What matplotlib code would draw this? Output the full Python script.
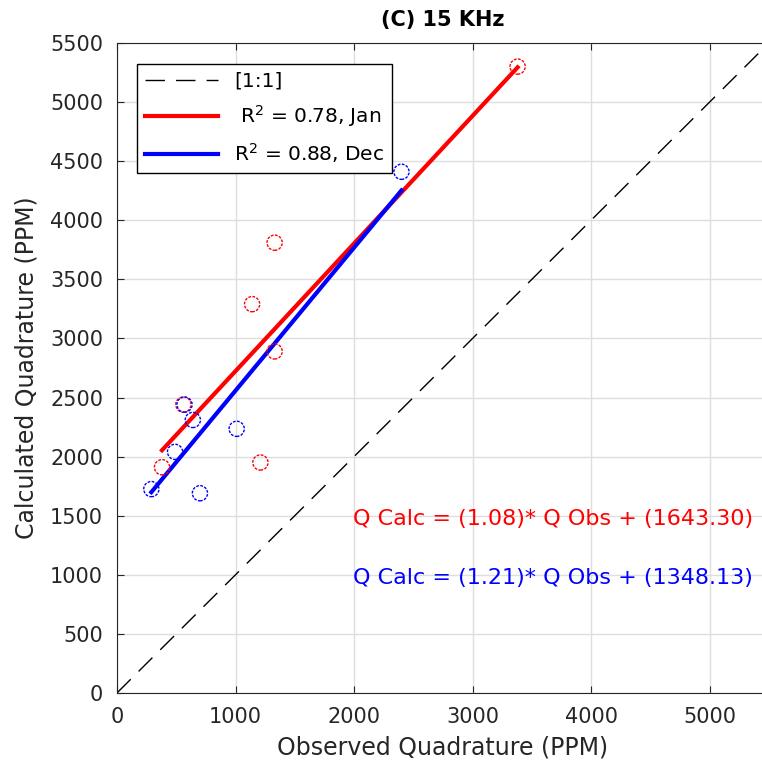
import matplotlib
matplotlib.use("Agg")
import matplotlib.pyplot as plt
import numpy as np

plt.rcParams["font.family"] = ["DejaVu Sans"]

# observed vs calculated quadrature (PPM)
jan_obs = [3380, 1330, 1140, 1330, 560, 380, 1210]
jan_calc = [5300, 3810, 3290, 2890, 2440, 1910, 1950]
dec_obs = [2400, 570, 640, 490, 290, 1010, 700]
dec_calc = [4410, 2440, 2310, 2040, 1725, 2235, 1690]

jan_fit = (1.08, 1643.30)
dec_fit = (1.21, 1348.13)
jan_r2, dec_r2 = 0.78, 0.88

lim = 5500
ticks = np.arange(0, 5501, 500)
xticks = np.arange(0, 5001, 1000)

fig = plt.figure(figsize=(7.62, 7.78), dpi=100)
ax = fig.add_axes([0.1535, 0.1093, 0.8556, 0.8355])

ax.plot([0, lim], [0, lim], "--", color="k", lw=1, dashes=(14, 8), label="[1:1]")

xr = np.array([min(jan_obs), max(jan_obs)])
ax.plot(xr, jan_fit[0] * xr + jan_fit[1], color="red", lw=3,
        label=r" R$^2$ = %.2f, Jan" % jan_r2)
xb = np.array([min(dec_obs), max(dec_obs)])
ax.plot(xb, dec_fit[0] * xb + dec_fit[1], color="blue", lw=3,
        label=r"R$^2$ = %.2f, Dec" % dec_r2)

ax.scatter(jan_obs, jan_calc, s=120, facecolors="none", edgecolors="red",
           linewidths=1, linestyle=(0, (2, 1)), zorder=3)
ax.scatter(dec_obs, dec_calc, s=120, facecolors="none", edgecolors="blue",
           linewidths=1, linestyle=(0, (2, 1)), zorder=3)

ax.text(1990, 1472, "Q Calc = (%.2f)* Q Obs + (%.2f)" % jan_fit, color="red",
        fontsize=16, va="center")
ax.text(1990, 973, "Q Calc = (%.2f)* Q Obs + (%.2f)" % dec_fit, color="blue",
        fontsize=16, va="center")

ax.set_xlim(0, lim); ax.set_ylim(0, lim)
ax.set_xticks(xticks); ax.set_yticks(ticks)
ax.grid(True, color="#dedede", lw=1)
ax.set_axisbelow(True)
ax.tick_params(direction="in", top=True, right=True, labelsize=15,
               colors="#262626", length=5, pad=10)
for s in ax.spines.values():
    s.set_color("#262626")
ax.set_xlabel("Observed Quadrature (PPM)", fontsize=17, color="#262626", labelpad=6)
ax.set_ylabel("Calculated Quadrature (PPM)", fontsize=17, color="#262626", labelpad=8)
ax.set_title("(C) 15 KHz", fontsize=15, fontweight="bold", pad=12)

leg = ax.legend(loc="upper left", bbox_to_anchor=(0.031, 0.968), borderaxespad=0,
                fontsize=14.5, fancybox=False, framealpha=1, edgecolor="k",
                handlelength=3.6, labelspacing=0.6)
leg.get_frame().set_linewidth(1)

fig.savefig("out.png", dpi=100)
